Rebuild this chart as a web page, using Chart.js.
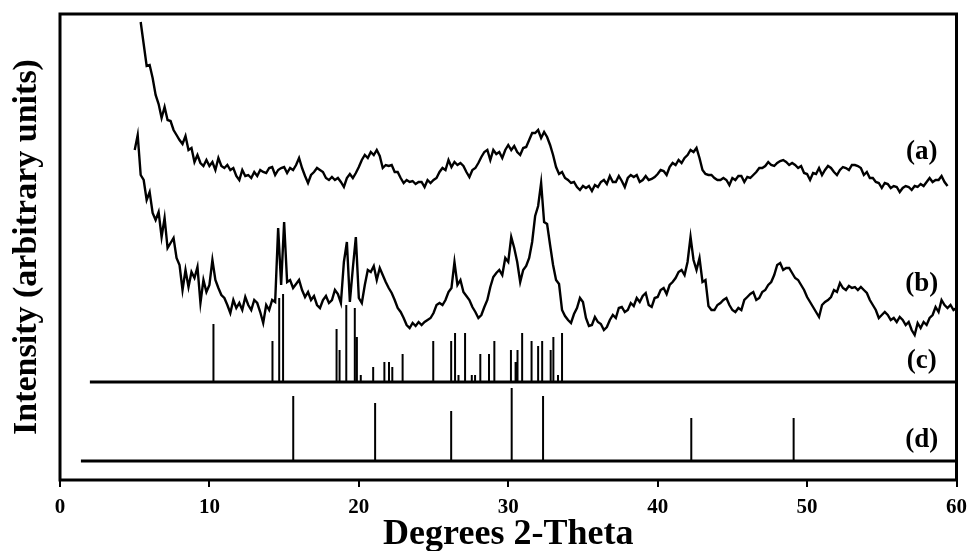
<!DOCTYPE html>
<html><head><meta charset="utf-8">
<script src="https://cdn.jsdelivr.net/npm/chart.js@4.4.1/dist/chart.umd.min.js"></script>
<style>html,body{margin:0;padding:0;background:#fff}canvas{display:block}</style>
</head><body>
<canvas id="c" width="975" height="551"></canvas>
<script>
// ---- data (x in degrees 2-theta, y in arbitrary intensity units) ----
const scanStep = 0.2;
const aStart = 5.4;
const aIntensity = [458,436,414,415,402,385,376,362,373,360,359,350,345,340,336,344,330,332,318,325,317,314,320,314,318,310,322,314,312,315,310,312,304,300,310,304,305,302,308,304,310,308,307,312,313,305,310,312,313,307,312,310,315,322,312,304,297,305,308,312,310,308,302,300,303,300,302,298,293,302,306,302,307,313,320,325,322,328,325,330,324,312,315,314,315,308,308,302,297,300,298,299,296,298,298,293,300,297,300,302,308,312,310,320,313,318,315,317,314,308,303,310,312,317,323,328,330,320,330,326,328,322,330,335,330,334,328,325,332,333,340,347,347,350,342,348,343,335,325,313,306,308,302,300,297,298,293,290,294,292,294,289,295,293,298,300,296,304,298,298,304,299,293,302,305,303,305,298,300,304,300,301,303,306,310,309,305,313,317,315,320,317,322,325,330,328,332,322,310,306,305,305,302,300,300,302,300,295,302,300,304,304,298,303,302,305,308,312,312,314,318,315,314,317,319,320,318,315,317,315,312,314,307,306,300,307,306,312,305,310,314,312,308,305,310,313,312,310,315,315,314,312,305,308,302,302,298,297,292,297,296,292,294,293,288,292,294,293,290,294,293,296,294,298,302,298,300,300,304,298,294];
const bStart = 5.0;
const bIntensity = [330,345,305,300,280,288,267,260,268,243,262,232,237,242,222,215,190,210,193,208,202,213,177,200,188,195,220,200,192,185,182,175,167,180,172,177,170,183,175,170,180,177,168,157,175,170,180,178,252,195,258,198,200,192,196,200,190,183,188,180,184,175,172,180,184,177,180,190,186,177,218,238,178,212,243,182,177,195,210,208,214,200,212,205,198,192,187,180,172,168,162,155,152,157,154,158,155,158,160,162,167,175,177,175,180,188,192,218,195,200,188,184,180,173,168,162,165,173,180,193,203,207,210,205,222,218,243,232,218,198,210,214,222,238,264,274,297,258,256,235,215,200,196,170,164,160,157,166,172,182,178,162,154,155,163,158,156,150,153,160,165,162,172,173,168,170,177,174,182,178,184,187,175,173,182,183,190,192,186,195,198,202,208,210,205,218,243,220,210,222,198,200,174,170,170,175,177,180,182,175,170,168,172,170,180,183,186,188,180,182,188,190,195,198,205,215,217,210,212,212,207,202,200,195,190,183,178,173,168,163,175,178,180,183,190,188,197,192,190,194,192,193,190,193,190,187,180,175,170,162,165,168,165,160,162,158,163,160,155,158,150,145,157,152,158,155,162,165,173,168,180,175,172,175,170,172];
// reference pattern (c)
const cBaseline = 98;
const cFrom = 2.0;
const cPositions = [10.27,14.22,14.67,14.93,18.51,18.71,19.16,19.73,19.87,20.13,20.96,21.71,22.02,22.24,22.93,24.98,26.18,26.44,26.67,27.11,27.56,27.78,28.13,28.71,29.07,30.18,30.49,30.62,30.93,31.56,32.0,32.27,32.84,33.02,33.33,33.6];
const cTops = [156,139,182,186,151,130,175,172,143,105,113,118,118,113,126,139,139,147,105,147,105,105,126,126,139,130,118,130,147,139,134,139,130,143,105,147];
// reference pattern (d)
const dBaseline = 19;
const dFrom = 1.4;
const dPositions = [15.61,21.09,26.18,30.23,32.33,42.25,49.1];
const dTops = [84,77,69,92,84,62,62];
const xTicks = [0,10,20,30,40,50,60];
const seriesNames = ['(a)','(b)','(c)','(d)'];

// ---- build datasets ----
const scanPoints = (start, vals) => vals.map((v,i)=>({x: +(start + i*scanStep).toFixed(2), y: v}));
const stickPoints = (pos, tops, base) => {
  const pts = [];
  pos.forEach((p,i)=>{ pts.push({x:p,y:base},{x:p,y:tops[i]},{x:p,y:null}); });
  return pts;
};
const lineDs = (data, w) => ({data, borderColor:'#000', borderWidth:w, pointRadius:0, tension:0, fill:false, spanGaps:false});

const serif = "'Liberation Serif','Times New Roman',serif";

const labelAnchors = {'(a)':[57.67,328],'(b)':[57.67,196],'(c)':[57.67,119],'(d)':[57.67,40]};

const framePlugin = {
  id:'frame',
  afterDatasetsDraw(chart){
    const {ctx, chartArea:{left,top,right,bottom}, scales:{x,y}} = chart;
    ctx.save();
    ctx.strokeStyle='#000'; ctx.lineWidth=3;
    ctx.strokeRect(left,top,right-left,bottom-top);
    ctx.fillStyle='#000';
    ctx.font = "bold 27px " + serif;
    ctx.textAlign='center'; ctx.textBaseline='middle';
    seriesNames.forEach(n=>{
      const [lx,ly] = labelAnchors[n];
      ctx.fillText(n, x.getPixelForValue(lx), y.getPixelForValue(ly));
    });
    ctx.restore();
  }
};

new Chart(document.getElementById('c'), {
  type:'line',
  data:{ datasets:[
    lineDs(scanPoints(aStart,aIntensity),2.4),
    lineDs(scanPoints(bStart,bIntensity),2.4),
    lineDs([{x:cFrom,y:cBaseline},{x:60,y:cBaseline}],3),
    lineDs(stickPoints(cPositions,cTops,cBaseline),2),
    lineDs([{x:dFrom,y:dBaseline},{x:60,y:dBaseline}],3),
    lineDs(stickPoints(dPositions,dTops,dBaseline),2)
  ]},
  options:{
    responsive:false, animation:false, devicePixelRatio:1,
    layout:{padding:{top:14,right:15,left:0,bottom:0}},
    plugins:{legend:{display:false}, tooltip:{enabled:false}},
    scales:{
      x:{type:'linear', min:0, max:60,
        afterBuildTicks(s){ s.ticks = xTicks.map(v=>({value:v})); },
        afterFit(s){ s.height = 71; },
        ticks:{color:'#000', padding:8, maxRotation:0, font:{family:serif, size:21, weight:'bold'}},
        grid:{display:true, drawOnChartArea:false, drawTicks:true, tickLength:7, color:'#000', lineWidth:2},
        border:{display:false},
        title:{display:true, text:'Degrees 2-Theta', color:'#000', padding:{top:0,bottom:0}, font:{family:serif, size:36, weight:'bold', lineHeight:0.9}}
      },
      y:{min:0, max:466,
        afterFit(s){ s.width = 60; },
        ticks:{display:false},
        grid:{display:false},
        border:{display:false},
        title:{display:true, text:'Intensity (arbitrary units)', color:'#000', padding:{top:10,bottom:0}, font:{family:serif, size:34, weight:'bold', lineHeight:1}}
      }
    }
  },
  plugins:[framePlugin]
});
</script>
</body></html>
